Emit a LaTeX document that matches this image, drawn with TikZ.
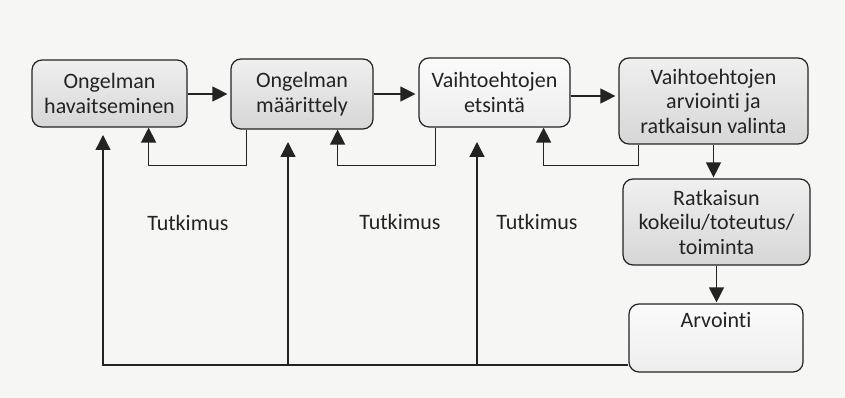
\documentclass[tikz,border=0pt]{standalone}
\usepackage{fontspec}
\setmainfont{Carlito}[Ligatures=NoCommon]
\usetikzlibrary{arrows.meta,calc}
\definecolor{paper}{RGB}{246,246,244}
\definecolor{ink}{RGB}{35,35,35}
\tikzset{
  stage/.style={draw=ink, line width=1.2pt, rounded corners=10pt, align=center,
    font=\fontsize{22}{24.5}\selectfont, text=ink, inner sep=0pt,
    top color=gray!12, bottom color=gray!32},
  stagelight/.style={stage, top color=gray!3, bottom color=gray!14},
  flow/.style={draw=ink, line width=1.3pt, -{Triangle[length=15pt,width=15pt]}},
  tag/.style={font=\fontsize{22}{24.5}\selectfont, text=ink},
}
\begin{document}
\begin{tikzpicture}[x=1pt,y=-1pt]
\fill[paper] (0,0) rectangle (845,398);
\useasboundingbox (0,0) rectangle (845,398);

% process stages
\node[stage, minimum width=155pt, minimum height=67pt] (b1) at (109.5,93.5) {Ongelman\\havaitseminen};
\node[stage, minimum width=142pt, minimum height=70pt] (b2) at (302,94) {Ongelman\\määrittely};
\node[stagelight, minimum width=151pt, minimum height=69pt] (b3) at (494.5,92.5) {Vaihtoehtojen\\etsintä};
\node[stage, minimum width=189pt, minimum height=86pt] (b4) at (713.5,101) {Vaihtoehtojen\\arviointi ja\\ratkaisun valinta};
\node[stage, minimum width=187pt, minimum height=86pt] (b5) at (716.5,222) {Ratkaisun\\kokeilu/toteutus/\\toiminta};
\node[stagelight, minimum width=174pt, minimum height=68pt,
  label={[tag,anchor=north,yshift=-5pt]north:Arvointi}] (b6) at (716,338) {};

% research labels
\node[tag] (r1) at (188,223) {Tutkimus};
\node[tag] (r2) at (400,222) {Tutkimus};
\node[tag] (r3) at (537,222) {Tutkimus};

% forward flow
\coordinate (row1) at (0,94);
\coordinate (row2) at (0,96);
\draw[flow, shorten >=3pt] (b1.east |- row1) -- (b2.west |- row1);
\draw[flow, shorten >=3pt] (b2.east |- row1) -- (b3.west |- row1);
\draw[flow, shorten >=3pt] (b3.east |- row2) -- (b4.west |- row2);
\draw[flow, shorten >=1pt] (b4.south) -- (b4.south |- b5.north);
\draw[flow, shorten >=1pt] (b5.south) -- (b5.south |- b6.north);

% feedback loops to the previous stage
\draw[flow] ([xshift=16pt]b2.south west) |- ($(b1.south east)+(-39,38)$) -- ([xshift=-39pt]b1.south east);
\draw[flow] ([xshift=17pt]b3.south west) |- ($(b2.south east)+(-36,36)$) -- ([xshift=-36pt]b2.south east);
\draw[flow] ([xshift=20pt]b4.south west) |- ($(b3.south east)+(-27,38)$) -- ([xshift=-27pt]b3.south east);

% evaluation feeding back to the early stages
\coordinate (base) at (0,365);
\coordinate (t1) at (103,135);
\coordinate (t2) at (288,142);
\coordinate (t3) at (477,142);
\draw[flow] (b6.west |- base) -| (t1);
\draw[flow] (t2 |- base) -- (t2);
\draw[flow] (t3 |- base) -- (t3);
\end{tikzpicture}
\end{document}
